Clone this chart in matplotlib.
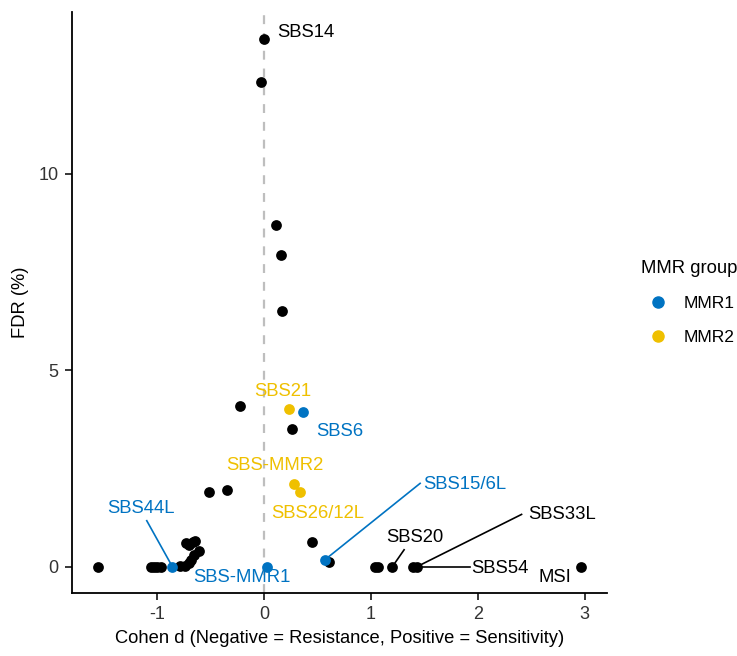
import matplotlib
matplotlib.use("Agg")
import matplotlib.pyplot as plt
from matplotlib.lines import Line2D

plt.rcParams['font.family'] = ['Liberation Sans', 'DejaVu Sans']
plt.rcParams['axes.unicode_minus'] = False

# ---- data ----
black_x = [-1.56, -1.06, -1.03, -1.00, -0.97, -0.79, -0.74, -0.70, -0.69, -0.66,
           -0.61, -0.70, -0.73, -0.67, -0.65, -0.52, -0.35, -0.23, -0.03, 0.00,
           0.11, 0.156, 0.168, 0.26, 0.446, 0.61, 1.04, 1.07, 1.20, 1.39, 1.43, 2.97]
black_y = [0.0, 0.0, 0.0, 0.0, 0.0, 0.01, 0.03, 0.10, 0.18, 0.30,
           0.40, 0.54, 0.60, 0.63, 0.66, 1.90, 1.94, 4.08, 12.32, 13.43,
           8.70, 7.94, 6.50, 3.50, 0.64, 0.12, 0.0, 0.0, 0.0, 0.0, 0.0, 0.0]

mmr1_x = [-0.86, 0.03, 0.36, 0.57]
mmr1_y = [0.0, 0.0, 3.94, 0.18]
mmr1_names = ["SBS44L", "SBS-MMR1", "SBS6", "SBS15/6L"]

mmr2_x = [0.236, 0.28, 0.336]
mmr2_y = [4.00, 2.11, 1.90]
mmr2_names = ["SBS21", "SBS-MMR2", "SBS26/12L"]

black_names = ["SBS14", "SBS20", "SBS33L", "SBS54", "MSI"]
black_name_x = [0.00, 1.20, 1.43, 1.39, 2.97]
black_name_y = [13.43, 0.0, 0.0, 0.0, 0.0]

group_labels = ["MMR1", "MMR2"]
c_black = "#000000"
c_mmr1 = "#0073C2"
c_mmr2 = "#EFC000"

# label placements (text position, ha, optional segment start)
lab_pos = {
    "SBS14": (0.12, 13.60, 'left', None),
    "SBS21": (0.17, 4.46, 'center', None),
    "SBS6": (0.71, 3.44, 'center', None),
    "SBS-MMR2": (0.10, 2.58, 'center', None),
    "SBS26/12L": (0.50, 1.35, 'center', None),
    "SBS15/6L": (1.88, 2.09, 'center', (1.46, 2.12)),
    "SBS44L": (-1.15, 1.48, 'center', (-1.10, 1.17)),
    "SBS-MMR1": (-0.21, -0.28, 'center', None),
    "SBS20": (1.41, 0.74, 'center', (1.31, 0.43)),
    "SBS33L": (2.79, 1.33, 'center', (2.41, 1.33)),
    "SBS54": (2.21, -0.05, 'center', (1.93, 0.0)),
    "MSI": (2.72, -0.28, 'center', None),
}

fig = plt.figure(figsize=(7.37, 6.56), dpi=100)
ax = fig.add_axes([0.0977, 0.096, 0.7259, 0.885])

ax.axvline(0, color='#BEBEBE', lw=1.6, ls=(0, (4, 4)), zorder=1)

ms = 60
ax.scatter(black_x, black_y, s=ms, color=c_black, zorder=3, linewidths=0)
ax.scatter(mmr1_x, mmr1_y, s=ms, color=c_mmr1, zorder=4, linewidths=0)
ax.scatter(mmr2_x, mmr2_y, s=ms, color=c_mmr2, zorder=4, linewidths=0)

def put(names, xs, ys, col):
    for n, px, py in zip(names, xs, ys):
        tx, ty, ha, seg = lab_pos[n]
        if seg is not None:
            ax.plot([seg[0], px], [seg[1], py], color=col, lw=1.2, zorder=2)
        ax.text(tx, ty, n, color=col, fontsize=13.3, ha=ha, va='center', zorder=5)

put(black_names, black_name_x, black_name_y, c_black)
put(mmr1_names, mmr1_x, mmr1_y, c_mmr1)
put(mmr2_names, mmr2_x, mmr2_y, c_mmr2)

ax.set_xlim(-1.80, 3.21)
ax.set_ylim(-0.67, 14.1)
ax.set_xticks([-1, 0, 1, 2, 3])
ax.set_yticks([0, 5, 10])
for s in ['top', 'right']:
    ax.spines[s].set_visible(False)
for s in ['left', 'bottom']:
    ax.spines[s].set_linewidth(1.3)
ax.tick_params(axis='both', direction='out', length=5, width=1.1,
               labelsize=13, labelcolor='#333333', pad=4.5)
ax.set_xlabel("Cohen d (Negative = Resistance, Positive = Sensitivity)", fontsize=13.2, labelpad=5)
ax.set_ylabel("FDR (%)", fontsize=13.2, labelpad=7)

handles = [Line2D([], [], marker='o', ls='', color=c, markersize=8)
           for c in [c_mmr1, c_mmr2]]
leg = fig.legend(handles, group_labels, title="MMR group", loc='upper left',
                 bbox_to_anchor=(0.848, 0.627), frameon=False, fontsize=12.6,
                 title_fontsize=13.3, labelspacing=1.05, handletextpad=0.45,
                 alignment='left')

fig.savefig("out.png", dpi=100)
